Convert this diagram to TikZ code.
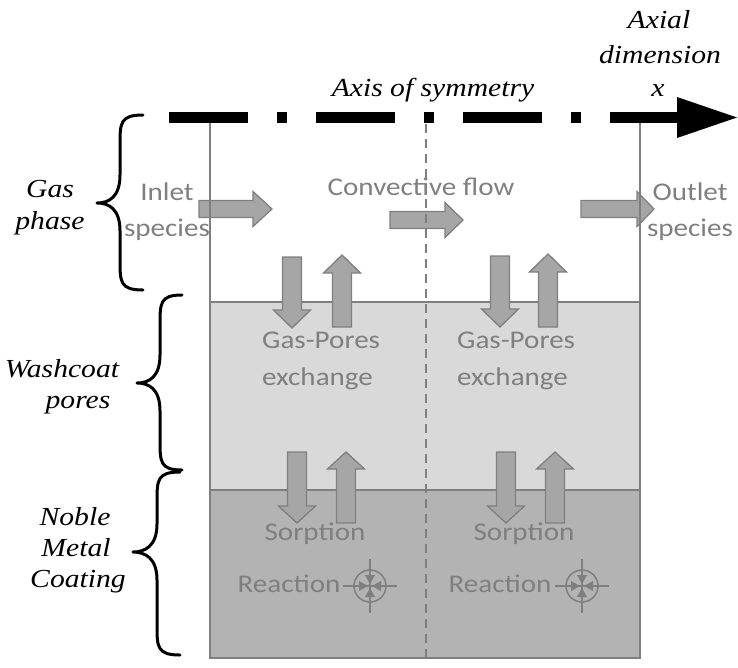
\documentclass[tikz,border=0pt]{standalone}
\usepackage{fontspec}
\setmainfont[FakeStretch=1.14]{Liberation Serif}
\newfontfamily\calfont[FakeStretch=1.14]{Carlito}
\definecolor{txtgray}{HTML}{7F7F7F}
\definecolor{arrfill}{HTML}{A6A6A6}
\definecolor{arrline}{HTML}{7F7F7F}
\definecolor{washc}{HTML}{D9D9D9}
\definecolor{noblec}{HTML}{B3B3B3}
\definecolor{boxgray}{HTML}{7F7F7F}
\tikzset{
  gtext/.style={font=\calfont\fontsize{25.5}{30}\selectfont, text=txtgray, inner sep=0pt, anchor=base},
  itext/.style={font=\fontsize{26}{30}\selectfont\itshape, inner sep=0pt, anchor=base},
  blk/.style={fill=arrfill, draw=arrline, line width=1.3pt, line join=miter},
  boxline/.style={draw=boxgray, line width=1.5pt},
  bracestyle/.style={line width=3pt, line cap=round, line join=round},
  symline/.style={draw=txtgray, line width=1.5pt},
}
\newcommand\hblk[4]{\draw[blk] (#1,#4-8.5) -- (#2,#4-8.5) -- (#2,#4-17.5) -- (#3,#4) -- (#2,#4+17.5) -- (#2,#4+8.5) -- (#1,#4+8.5) -- cycle;}
\newcommand\vblk[4]{\draw[blk] (#1-9.5,#2) -- (#1-9.5,#3) -- (#1-18.5,#3) -- (#1,#4) -- (#1+18.5,#3) -- (#1+9.5,#3) -- (#1+9.5,#2) -- cycle;}
\newcommand\drawbrace[6]{\draw[bracestyle] (#1,#4) .. controls (#2,#4) and (#2,#4+8) .. (#2,#4+30) -- (#2,#5-28) .. controls (#2,#5-6) and (#3+12,#5) .. (#3,#5) .. controls (#3+12,#5) and (#2,#5+6) .. (#2,#5+28) -- (#2,#6-30) .. controls (#2,#6-8) and (#2,#6) .. (#1,#6);}
\newcommand\reactsym[2]{%
  \draw[symline] (#1,#2) circle[radius=16pt];
  \draw[symline] (#1-27,#2) -- (#1+27,#2) (#1,#2-27) -- (#1,#2+27);
  \fill[txtgray] (#1,#2-2) -- (#1-5,#2-11) -- (#1+5,#2-11) -- cycle;
  \fill[txtgray] (#1,#2+2) -- (#1-5,#2+11) -- (#1+5,#2+11) -- cycle;
  \fill[txtgray] (#1-2,#2) -- (#1-11,#2-5) -- (#1-11,#2+5) -- cycle;
  \fill[txtgray] (#1+2,#2) -- (#1+11,#2-5) -- (#1+11,#2+5) -- cycle;
}
\begin{document}
\begin{tikzpicture}[x=1pt,y=-1pt]
\useasboundingbox (0,0) rectangle (738,667);
% regions
\fill[washc] (210,302) rectangle (640,490);
\fill[noblec] (210,490) rectangle (640,658);
\draw[boxline] (210,302) -- (640,302);
\draw[boxline] (210,490) -- (640,490);
% block arrows
\hblk{199}{253}{272}{209}
\hblk{390}{445}{463}{220}
\hblk{581}{637}{654}{209}
\vblk{292}{257}{310}{328}
\vblk{342}{327}{273}{255}
\vblk{500}{256}{309}{327}
\vblk{548}{327}{272}{254}
\vblk{297}{452}{506}{523}
\vblk{346}{523}{469}{452}
\vblk{506}{452}{506}{523}
\vblk{555}{523}{469}{452}
% gray texts
\node[gtext] (inlet1) at (167,200) {Inlet};
\node[gtext] (inlet2) at (167,236) {species};
\node[gtext] (outlet1) at (690,200) {Outlet};
\node[gtext] (outlet2) at (690,236) {species};
\node[gtext] (conv) at (421,195) {Convective flow};
\node[gtext, anchor=base west] (gp1) at (262,348) {Gas-Pores};
\node[gtext, anchor=base west] (ex1) at (262,385) {exchange};
\node[gtext, anchor=base west] (gp2) at (457,348) {Gas-Pores};
\node[gtext, anchor=base west] (ex2) at (457,385) {exchange};
\node[gtext] (sorp1) at (315,540) {Sorption};
\node[gtext] (sorp2) at (524,540) {Sorption};
\node[gtext] (reac1) at (289,592) {Reaction};
\node[gtext] (reac2) at (500,592) {Reaction};
\reactsym{370}{586}
\reactsym{582}{586}
% symmetry dashed line
\draw[draw=boxgray, line width=1.5pt, dash pattern=on 9pt off 6pt] (426,124) -- (426,658);
% box outline
\draw[boxline] (210,118) -- (210,658) -- (640,658) -- (640,118);
% axis
\coordinate (axstart) at (169,117.5);
\coordinate (axhead) at (677,117.5);
\draw[line width=11pt, dash pattern=on 79pt off 29pt on 10pt off 29pt] (axstart) -- (axhead);
\fill (677,97) -- (737,117.5) -- (677,138) -- cycle;
\node[itext] (axsym) at (433,96) {Axis of symmetry};
\node[itext] (axial) at (659,28) {Axial};
\node[itext] (dimen) at (660,63) {dimension};
\node[itext] (xvar) at (658,96) {x};
% braces
\drawbrace{143}{120}{97}{115}{203}{290}
\drawbrace{182}{160}{137}{295}{383}{470}
\drawbrace{180}{157}{133}{472}{552}{655}
\node[itext] (gas) at (50,197) {Gas};
\node[itext] (phase) at (50,229) {phase};
\node[itext] (wash) at (62,377) {Washcoat};
\node[itext] (pores) at (78,408) {pores};
\node[itext] (noble) at (75,525) {Noble};
\node[itext] (metal) at (76,556) {Metal};
\node[itext] (coat) at (78,587) {Coating};
\end{tikzpicture}
\end{document}
